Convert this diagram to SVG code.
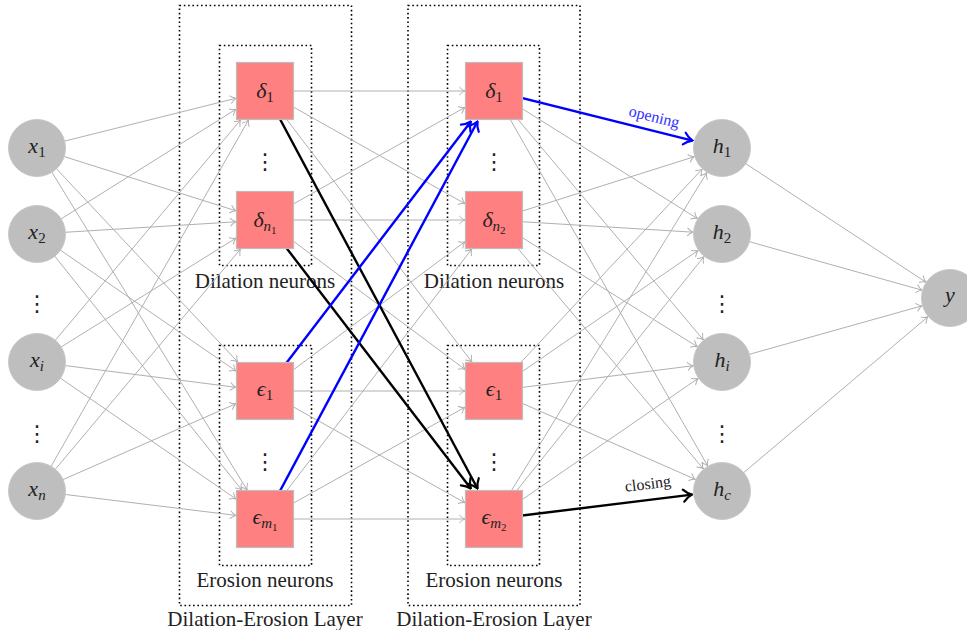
<svg xmlns="http://www.w3.org/2000/svg" width="967" height="630" viewBox="0 0 967 630">
<style>
.e{stroke:#b0b0b0;stroke-width:1;fill:none;marker-end:url(#ag)}
.tb{stroke:#0000ff;stroke-width:2.4;fill:none;marker-end:url(#ab)}
.tk{stroke:#000;stroke-width:2.4;fill:none;marker-end:url(#ak)}
.c{fill:#bebebe;stroke:#c8c8c8;stroke-width:1}
.s{fill:#ff8080;stroke:#bdbdbd;stroke-width:1.2}
.box{fill:none;stroke:#000;stroke-width:1.6;stroke-dasharray:1.6 2.7}
.m{font-family:"Liberation Serif","DejaVu Serif",serif;font-style:italic;font-size:22px;fill:#222;text-anchor:middle}
.sub{font-size:15px}
.ss{font-size:11px}
.up{font-style:normal}
.lbl{font-family:"Liberation Serif","DejaVu Serif",serif;font-size:21px;fill:#222;text-anchor:middle}
.dots{font-family:"DejaVu Sans",sans-serif;font-size:22px;fill:#222;text-anchor:middle}
.el{font-family:"Liberation Serif","DejaVu Serif",serif;font-size:16px;text-anchor:middle}
</style>
<defs>
<marker id="ag" markerUnits="userSpaceOnUse" viewBox="-7 -5 8 10" refX="0" refY="0" markerWidth="8" markerHeight="10" orient="auto">
<path d="M -5.5,-3.8 C -3.5,-1.6 -1.2,-0.4 0,0 C -1.2,0.4 -3.5,1.6 -5.5,3.8" fill="none" stroke="#b0b0b0" stroke-width="1" stroke-linecap="round"/>
</marker>
<marker id="ab" markerUnits="userSpaceOnUse" viewBox="-11 -8 12 16" refX="0" refY="0" markerWidth="12" markerHeight="16" orient="auto">
<path d="M -8.5,-6 C -5.5,-2.6 -1.8,-0.7 0,0 C -1.8,0.7 -5.5,2.6 -8.5,6" fill="none" stroke="#0000ff" stroke-width="2.2" stroke-linecap="round"/>
</marker>
<marker id="ak" markerUnits="userSpaceOnUse" viewBox="-11 -8 12 16" refX="0" refY="0" markerWidth="12" markerHeight="16" orient="auto">
<path d="M -8.5,-6 C -5.5,-2.6 -1.8,-0.7 0,0 C -1.8,0.7 -5.5,2.6 -8.5,6" fill="none" stroke="#000" stroke-width="2.2" stroke-linecap="round"/>
</marker>
</defs>
<rect width="967" height="630" fill="#fff"/>

<g id="layer-boxes">
<rect class="box" x="179.5" y="5.5" width="172" height="600"/>
<rect class="box" x="219.5" y="45.5" width="92" height="220"/>
<rect class="box" x="219.5" y="345.5" width="92" height="220"/>
<rect class="box" x="408" y="5.5" width="172" height="600"/>
<rect class="box" x="447.5" y="45.5" width="92" height="220"/>
<rect class="box" x="447.5" y="345.5" width="92" height="220"/>
<text class="lbl" x="265" y="288">Dilation neurons</text>
<text class="lbl" x="265" y="587">Erosion neurons</text>
<text class="lbl" x="265" y="626">Dilation-Erosion Layer</text>
<text class="lbl" x="494" y="288">Dilation neurons</text>
<text class="lbl" x="494" y="587">Erosion neurons</text>
<text class="lbl" x="494" y="626">Dilation-Erosion Layer</text>
</g>

<g id="connectors">
<line class="e" x1="37" y1="148" x2="236" y2="98.3"/>
<line class="e" x1="37" y1="148" x2="236" y2="210.8"/>
<line class="e" x1="37" y1="148" x2="237.8" y2="362"/>
<line class="e" x1="37" y1="148" x2="247.2" y2="490"/>
<line class="e" x1="37" y1="234" x2="236" y2="109.2"/>
<line class="e" x1="37" y1="234" x2="236" y2="221.8"/>
<line class="e" x1="37" y1="234" x2="236" y2="371"/>
<line class="e" x1="37" y1="234" x2="241.8" y2="490"/>
<line class="e" x1="37" y1="362" x2="240.6" y2="120"/>
<line class="e" x1="37" y1="362" x2="236" y2="238.1"/>
<line class="e" x1="37" y1="362" x2="236" y2="387.3"/>
<line class="e" x1="37" y1="362" x2="236" y2="499"/>
<line class="e" x1="37" y1="491" x2="248.5" y2="120"/>
<line class="e" x1="37" y1="491" x2="240.6" y2="249"/>
<line class="e" x1="37" y1="491" x2="236" y2="403.7"/>
<line class="e" x1="37" y1="491" x2="236" y2="515.4"/>

<line class="e" x1="265" y1="91" x2="465" y2="91"/>
<line class="e" x1="265" y1="91" x2="465" y2="203.7"/>
<line class="e" x1="265" y1="91" x2="471.9" y2="362"/>
<line class="e" x1="265" y1="220" x2="465" y2="107.3"/>
<line class="e" x1="265" y1="220" x2="465" y2="220"/>
<line class="e" x1="265" y1="220" x2="465" y2="369.4"/>
<line class="e" x1="265" y1="391" x2="465" y2="241.6"/>
<line class="e" x1="265" y1="391" x2="465" y2="391"/>
<line class="e" x1="265" y1="391" x2="465" y2="502.8"/>
<line class="e" x1="265" y1="519" x2="471.8" y2="249"/>
<line class="e" x1="265" y1="519" x2="465" y2="407.2"/>
<line class="e" x1="265" y1="519" x2="465" y2="519"/>

<line class="e" x1="494" y1="91" x2="697.4" y2="218.6"/>
<line class="e" x1="494" y1="91" x2="703.3" y2="339.8"/>
<line class="e" x1="494" y1="91" x2="707.6" y2="465.8"/>
<line class="e" x1="494" y1="220" x2="694.3" y2="156.7"/>
<line class="e" x1="494" y1="220" x2="693.1" y2="232.2"/>
<line class="e" x1="494" y1="220" x2="697.4" y2="346.7"/>
<line class="e" x1="494" y1="220" x2="703.3" y2="468.8"/>
<line class="e" x1="494" y1="391" x2="702.2" y2="169.1"/>
<line class="e" x1="494" y1="391" x2="698.1" y2="250.4"/>
<line class="e" x1="494" y1="391" x2="693.2" y2="365.7"/>
<line class="e" x1="494" y1="391" x2="695.4" y2="479.3"/>
<line class="e" x1="494" y1="519" x2="706.8" y2="172.7"/>
<line class="e" x1="494" y1="519" x2="703.9" y2="256.6"/>
<line class="e" x1="494" y1="519" x2="698.1" y2="378.4"/>

<line class="e" x1="722" y1="148" x2="925.8" y2="282.1"/>
<line class="e" x1="722" y1="234" x2="922.1" y2="290.2"/>
<line class="e" x1="722" y1="362" x2="922.1" y2="305.8"/>
<line class="e" x1="722" y1="491" x2="927.9" y2="316.7"/>

<line class="tk" x1="265" y1="91" x2="477.5" y2="488.5"/>
<line class="tk" x1="265" y1="220" x2="470.8" y2="488.5"/>
<line class="tb" x1="265" y1="391" x2="470.9" y2="121.5"/>
<line class="tb" x1="265" y1="519" x2="477.5" y2="121.5"/>
<line class="tb" x1="494" y1="91" x2="692.5" y2="140.6"/>
<line class="tk" x1="494" y1="519" x2="692" y2="494.6"/>
<text class="el" fill="#3030ff" transform="translate(654,118) rotate(13.7)" x="0" y="4">opening</text>
<text class="el" fill="#222" transform="translate(648,485) rotate(-7.2)" x="0" y="4">closing</text>
</g>

<g id="x1"><circle class="c" cx="37" cy="148" r="28.5"/><text class="m" x="37" y="153">x<tspan class="sub up" dy="4">1</tspan></text></g>
<g id="x2"><circle class="c" cx="37" cy="234" r="28.5"/><text class="m" x="37" y="239">x<tspan class="sub up" dy="4">2</tspan></text></g>
<g id="xi"><circle class="c" cx="37" cy="362" r="28.5"/><text class="m" x="37" y="367">x<tspan class="sub" dy="4">i</tspan></text></g>
<g id="xn"><circle class="c" cx="37" cy="491" r="28.5"/><text class="m" x="37" y="496">x<tspan class="sub" dy="4">n</tspan></text></g>
<g id="input-dots"><text class="dots" x="37" y="311">⋮</text><text class="dots" x="37" y="441">⋮</text></g>

<g id="d1a"><rect class="s" x="236.5" y="62.5" width="57" height="57"/><text class="m" x="265" y="98">δ<tspan class="sub up" dy="4">1</tspan></text></g>
<g id="dn1"><rect class="s" x="236.5" y="191.5" width="57" height="57"/><text class="m" x="265" y="227">δ<tspan class="sub" dy="4">n</tspan><tspan class="ss up" dy="3">1</tspan></text></g>
<g id="e1a"><rect class="s" x="236.5" y="362.5" width="57" height="57"/><text class="m" x="265" y="396">ϵ<tspan class="sub up" dy="4">1</tspan></text></g>
<g id="em1"><rect class="s" x="236.5" y="490.5" width="57" height="57"/><text class="m" x="265" y="524">ϵ<tspan class="sub" dy="4">m</tspan><tspan class="ss up" dy="3">1</tspan></text></g>
<g id="layer1-dots"><text class="dots" x="265" y="169">⋮</text><text class="dots" x="265" y="469">⋮</text></g>

<g id="d1b"><rect class="s" x="465.5" y="62.5" width="57" height="57"/><text class="m" x="494" y="98">δ<tspan class="sub up" dy="4">1</tspan></text></g>
<g id="dn2"><rect class="s" x="465.5" y="191.5" width="57" height="57"/><text class="m" x="494" y="227">δ<tspan class="sub" dy="4">n</tspan><tspan class="ss up" dy="3">2</tspan></text></g>
<g id="e1b"><rect class="s" x="465.5" y="362.5" width="57" height="57"/><text class="m" x="494" y="396">ϵ<tspan class="sub up" dy="4">1</tspan></text></g>
<g id="em2"><rect class="s" x="465.5" y="490.5" width="57" height="57"/><text class="m" x="494" y="524">ϵ<tspan class="sub" dy="4">m</tspan><tspan class="ss up" dy="3">2</tspan></text></g>
<g id="layer2-dots"><text class="dots" x="494" y="169">⋮</text><text class="dots" x="494" y="469">⋮</text></g>

<g id="h1"><circle class="c" cx="722" cy="148" r="28.5"/><text class="m" x="722" y="153">h<tspan class="sub up" dy="4">1</tspan></text></g>
<g id="h2"><circle class="c" cx="722" cy="234" r="28.5"/><text class="m" x="722" y="239">h<tspan class="sub up" dy="4">2</tspan></text></g>
<g id="hi"><circle class="c" cx="722" cy="362" r="28.5"/><text class="m" x="722" y="367">h<tspan class="sub" dy="4">i</tspan></text></g>
<g id="hc"><circle class="c" cx="722" cy="491" r="28.5"/><text class="m" x="722" y="496">h<tspan class="sub" dy="4">c</tspan></text></g>
<g id="hidden-dots"><text class="dots" x="722" y="311">⋮</text><text class="dots" x="722" y="441">⋮</text></g>

<g id="y"><circle class="c" cx="950" cy="298" r="28.5"/><text class="m" x="950" y="302">y</text></g>
</svg>
